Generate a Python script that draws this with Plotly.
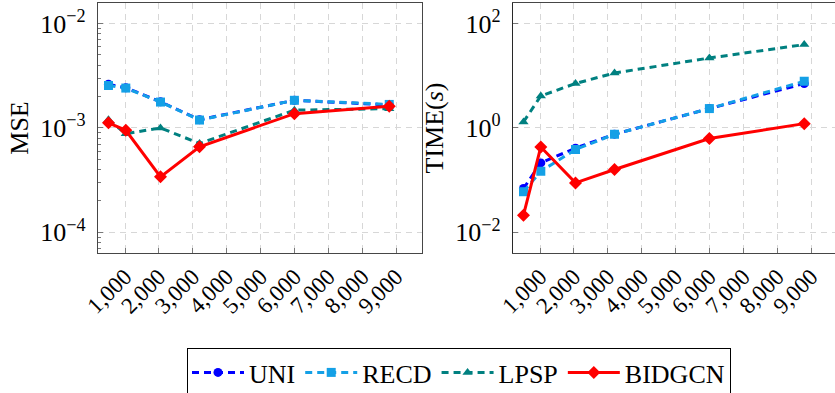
import plotly.graph_objects as go

x_vals = [512, 1024, 2048, 3200, 6000, 8800]

mse_uni = [2.62e-3, 2.43e-3, 1.78e-3, 1.20e-3, 1.84e-3, 1.66e-3]
mse_recd = [2.55e-3, 2.41e-3, 1.77e-3, 1.19e-3, 1.84e-3, 1.68e-3]
mse_lpsp = [1.20e-3, 0.88e-3, 1.00e-3, 0.71e-3, 1.48e-3, 1.53e-3]
mse_bidgcn = [1.12e-3, 0.95e-3, 0.34e-3, 0.66e-3, 1.37e-3, 1.61e-3]

time_uni = [0.069, 0.214, 0.41, 0.76, 2.35, 7.1]
time_recd = [0.060, 0.148, 0.386, 0.757, 2.35, 7.85]
time_lpsp = [1.30, 4.1, 7.1, 11.3, 21.9, 39.5]
time_bidgcn = [0.0213, 0.433, 0.0886, 0.16, 0.627, 1.21]

series_names = ["UNI", "RECD", "LPSP", "BIDGCN"]
x_ticks = [1000, 2000, 3000, 4000, 5000, 6000, 7000, 8000, 9000]
x_tick_text = ["1,000", "2,000", "3,000", "4,000", "5,000", "6,000", "7,000", "8,000", "9,000"]
mse_ticks = [1e-4, 1e-3, 1e-2]
mse_tick_text = ["10<sup>−4</sup>", "10<sup>−3</sup>", "10<sup>−2</sup>"]
time_ticks = [1e-2, 1, 1e2]
time_tick_text = ["10<sup>−2</sup>", "10<sup>0</sup>", "10<sup>2</sup>"]

styles = [
    dict(color="rgb(0,0,255)", dash="7px,5px", symbol="circle"),
    dict(color="rgb(20,160,230)", dash="7px,5px", symbol="square"),
    dict(color="rgb(0,128,128)", dash="7px,5px", symbol="triangle-up"),
    dict(color="rgb(255,0,0)", dash="solid", symbol="diamond"),
]

FONT = "Liberation Serif"
fig = go.Figure()

mse_data = [mse_uni, mse_recd, mse_lpsp, mse_bidgcn]
time_data = [time_uni, time_recd, time_lpsp, time_bidgcn]

def msize(sym):
    return 10 if sym == "diamond" else 9

for name, ys, st in zip(series_names, mse_data, styles):
    fig.add_trace(go.Scatter(
        x=x_vals, y=ys, name=name, mode="lines+markers",
        line=dict(color=st["color"], dash=st["dash"], width=3),
        marker=dict(symbol=st["symbol"], size=msize(st["symbol"]), color=st["color"]),
        xaxis="x", yaxis="y", legendgroup=name,
    ))
for name, ys, st in zip(series_names, time_data, styles):
    fig.add_trace(go.Scatter(
        x=x_vals, y=ys, name=name, mode="lines+markers",
        line=dict(color=st["color"], dash=st["dash"], width=3),
        marker=dict(symbol=st["symbol"], size=msize(st["symbol"]), color=st["color"]),
        xaxis="x2", yaxis="y2", legendgroup=name, showlegend=False,
    ))

grid = dict(showgrid=True, gridcolor="rgb(215,215,215)", griddash="6px,5px", gridwidth=1)
xcommon = dict(
    tickmode="array", tickvals=x_ticks, ticktext=x_tick_text, tickangle=-45,
    ticks="inside", ticklen=5, tickcolor="rgb(120,120,120)",
    showline=True, linecolor="rgb(70,70,70)", linewidth=1.2, automargin=False,
    tickfont=dict(family=FONT, size=23, color="black"), zeroline=False, **grid,
)
fig.update_layout(
    width=835, height=393,
    margin=dict(l=0, r=0, t=3, b=140, autoexpand=False),
    paper_bgcolor="white", plot_bgcolor="white",
    font=dict(family=FONT, size=24, color="black"),
    xaxis=dict(domain=[98/835, 422/835], range=[203, 9767], mirror=True, anchor="y", **xcommon),
    xaxis2=dict(domain=[513/835, 1.0], range=[203, 9708], mirror=True, anchor="y2", **xcommon),
    yaxis=dict(
        type="log", range=[-4.198, -1.803], anchor="x", automargin=False,
        tickmode="array", tickvals=mse_ticks, ticktext=mse_tick_text,
        ticks="inside", ticklen=5, tickcolor="rgb(120,120,120)",
        minor=dict(tickmode="array",
                   tickvals=[k * 1e-4 for k in range(2, 10)] + [k * 1e-3 for k in range(2, 10)] + [0.7e-4, 0.8e-4, 0.9e-4],
                   ticks="inside", ticklen=3, tickcolor="rgb(120,120,120)", showgrid=False),
        showline=True, linecolor="rgb(70,70,70)", linewidth=1.2, mirror=True,
        tickfont=dict(family=FONT, size=26, color="black"),
        title=dict(text="MSE", font=dict(family=FONT, size=26), standoff=4),
        ticklabelstandoff=6, zeroline=False, **grid,
    ),
    yaxis2=dict(
        type="log", range=[-2.396, 2.394], anchor="x2", automargin=False,
        tickmode="array", tickvals=time_ticks, ticktext=time_tick_text,
        ticks="inside", ticklen=5, tickcolor="rgb(120,120,120)",
        showline=True, linecolor="rgb(40,40,40)", linewidth=1.2, mirror=False,
        tickfont=dict(family=FONT, size=26, color="black"),
        title=dict(text="TIME(<i>s</i>)", font=dict(family=FONT, size=26), standoff=4),
        ticklabelstandoff=6, zeroline=False, **grid,
    ),
    legend=dict(
        orientation="h", x=459/835, xanchor="center", y=(253-348)/250, yanchor="top",
        bordercolor="black", borderwidth=1, bgcolor="white",
        font=dict(family=FONT, size=26, color="black"),
        itemwidth=52, tracegroupgap=0,
    ),
)

fig.write_html("out.html")
